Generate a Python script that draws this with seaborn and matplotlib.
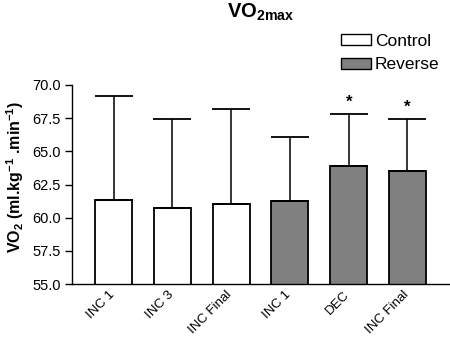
import matplotlib
matplotlib.use("Agg")
import matplotlib.pyplot as plt
from matplotlib.patches import Patch
from matplotlib.transforms import ScaledTranslation
import seaborn as sns
import pandas as pd

# Test conditions, groups and VO2max results (mean and SD)
categories = ["INC 1", "INC 3", "INC Final", "INC 1", "DEC", "INC Final"]
groups = ["Control", "Control", "Control", "Reverse", "Reverse", "Reverse"]
means = [61.3, 60.7, 61.05, 61.25, 63.9, 63.55]
sds = [7.9, 6.7, 7.15, 4.85, 3.9, 3.9]
significant = [False, False, False, False, True, True]
y_ticks = [55.0, 57.5, 60.0, 62.5, 65.0, 67.5, 70.0]

colors = {"Control": "#ffffff", "Reverse": "#808080"}

sns.set_theme(style="white")
plt.rcParams["font.family"] = ["Liberation Sans", "DejaVu Sans"]
plt.rcParams["text.color"] = "black"
plt.rcParams["axes.labelcolor"] = "black"
plt.rcParams["xtick.color"] = "black"
plt.rcParams["ytick.color"] = "black"
plt.rcParams["mathtext.fontset"] = "custom"
plt.rcParams["mathtext.rm"] = "Liberation Sans"
plt.rcParams["mathtext.bf"] = "Liberation Sans:bold"
plt.rcParams["mathtext.it"] = "Liberation Sans:italic"

slots = [f"{g}|{c}|{i}" for i, (g, c) in enumerate(zip(groups, categories))]
df = pd.DataFrame({"slot": slots, "group": groups, "mean": means, "sd": sds})

fig = plt.figure(figsize=(4.5, 3.37), dpi=100)
ax = fig.add_axes([72 / 450, 1 - 284 / 337, (449 - 72) / 450, (284 - 85) / 337])

sns.barplot(data=df, x="slot", y="mean", hue="group", order=slots,
            palette=colors, dodge=False, width=0.63, errorbar=None,
            edgecolor="black", linewidth=1.3, legend=False, ax=ax)

# one-sided (upper) SD error bars
xs = list(range(len(slots)))
ax.errorbar(xs, means, yerr=[[0] * len(sds), sds], fmt="none",
            ecolor="black", elinewidth=1.1, capsize=14, capthick=1.3, zorder=3)

for x, m, s, sig in zip(xs, means, sds, significant):
    if sig:
        ax.annotate("*", (x, m + s), xytext=(0, 3), textcoords="offset points",
                    ha="center", va="bottom", fontsize=12, fontweight="bold")

ax.set_ylim(55, 70)
ax.set_xlim(-0.706, 5.706)
ax.set_yticks(y_ticks)
ax.set_yticklabels([f"{t:.1f}" for t in y_ticks], fontsize=10.5)
ax.set_xticks(xs)
ax.set_xticklabels(categories, rotation=45, ha="right", rotation_mode="anchor",
                   fontsize=9.5)
ax.tick_params(axis="x", length=0, pad=4)
ax.tick_params(axis="y", direction="out", length=5, width=1, color="black", pad=3,
               left=True)
# nudge the slanted category labels slightly left so they end under the bar
shift = ScaledTranslation(-5 / 100, 1 / 100, fig.dpi_scale_trans)
for lbl in ax.get_xticklabels():
    lbl.set_transform(lbl.get_transform() + shift)

ax.set_xlabel("")
ax.set_ylabel(r"VO$_{\mathbf{2}}$ (ml.kg$^{\mathbf{-1}}$ .min$^{\mathbf{-1}}$)",
              fontsize=11.5, fontweight="bold")
ax.yaxis.set_label_coords(-0.122, 0.54)

for side in ["top", "right"]:
    ax.spines[side].set_visible(False)
for side in ["left", "bottom"]:
    ax.spines[side].set_color("black")
    ax.spines[side].set_linewidth(1.0)

fig.text(0.58, 0.962, r"$\mathbf{VO_{2max}}$", ha="center", va="center",
         fontsize=14.5)

handles = [Patch(facecolor=colors[g], edgecolor="black", linewidth=1.0, label=g)
           for g in ["Control", "Reverse"]]
fig.legend(handles=handles, loc="upper left", bbox_to_anchor=(0.758, 0.9),
           frameon=False, fontsize=12.5, handlelength=1.7, handleheight=0.6,
           handletextpad=0.25, labelspacing=0.5, borderpad=0, borderaxespad=0)

fig.savefig("out.png", dpi=100)
